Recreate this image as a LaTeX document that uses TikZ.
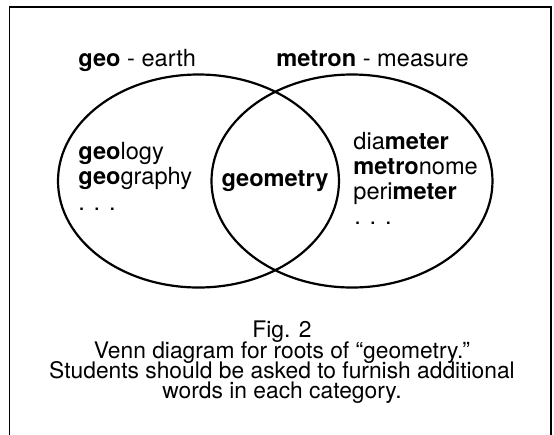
\documentclass[tikz,border=0pt]{standalone}
\usepackage{fontspec}
\setmainfont{TeX Gyre Heros}
\usetikzlibrary{shapes.geometric}

\begin{document}
\begin{tikzpicture}[x=0.5pt,y=-0.5pt,
        set/.style={ellipse,draw,line width=1.1pt,minimum width=140.5pt,minimum height=106.5pt,inner sep=0pt},
        w/.style={anchor=base west,inner sep=0pt,font=\fontsize{11.8}{13}\selectfont},
        capline/.style={anchor=base,inner sep=0pt,font=\fontsize{11.4}{13}\selectfont}]
        \useasboundingbox (0,0) rectangle (554,435);
        \draw[line width=0.75pt] (9.5,435) -- (9.5,7) -- (551,7) -- (551,435);
        \node[set] (geo) at (198.5,181) {};
        \node[set] (metron) at (352,181) {};
        \node[w] (geoh) at (78,66) {\textbf{geo} - earth};
        \node[w] (metronh) at (276,66) {\textbf{metron} - measure};
        \node[w] (g1) at (78,159) {\textbf{geo}logy};
        \node[w] (g2) at (78,184) {\textbf{geo}graphy};
        \node[w] (g3) at (78,210) {. . .};
        \node[w,anchor=base] (both) at (275,186) {\textbf{geometry}};
        \node[w] (m1) at (353,149) {dia\textbf{meter}};
        \node[w] (m2) at (353,174) {\textbf{metro}nome};
        \node[w] (m3) at (353,199) {peri\textbf{meter}};
        \node[w] (m4) at (354,224) {. . .};
        \node[capline] (fig) at (282,337) {Fig. 2};
        \node[capline] (c1) at (282,358) {Venn diagram for roots of “geometry.”};
        \node[capline] (c2) at (282,378) {Students should be asked to furnish additional};
        \node[capline] (c3) at (282,398) {words in each category.};
      \end{tikzpicture}
\end{document}
